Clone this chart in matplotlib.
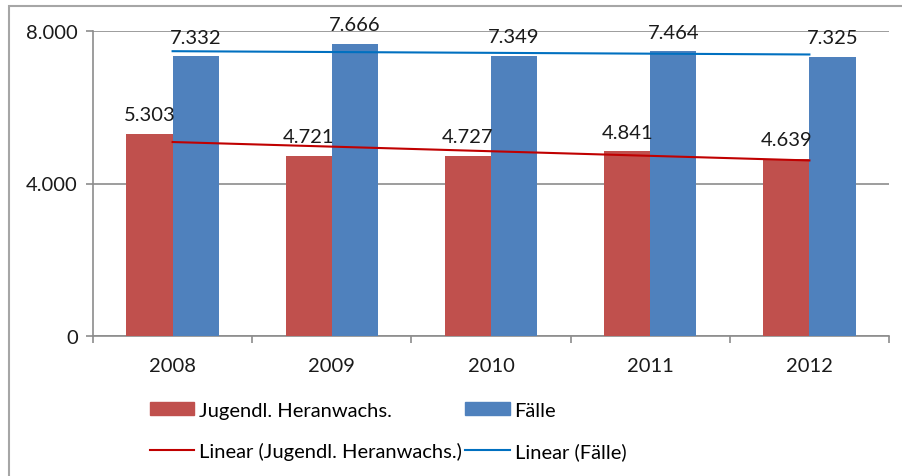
import matplotlib.pyplot as plt
import numpy as np
from matplotlib.patches import Rectangle, Patch
from matplotlib.lines import Line2D

plt.rcParams['font.family'] = ['Lato', 'DejaVu Sans']

jahre = ["2008", "2009", "2010", "2011", "2012"]
jugendl = [5303, 4721, 4727, 4841, 4639]
faelle = [7332, 7666, 7349, 7464, 7325]
y_ticks = [0, 4000, 8000]
y_labels = ["0", "4.000", "8.000"]

rot = '#C0504D'
blau = '#4F81BD'
rot_trend = '#C00000'
blau_trend = '#0070C0'
grau = '#8C8C8C'


def fmt(v):
    return f"{v:,}".replace(",", ".")


fig = plt.figure(figsize=(9.02, 4.77), dpi=100)
ax = fig.add_axes([93 / 902, 1 - 337 / 477, (889 - 93) / 902, (337 - 32) / 477])

x = np.arange(len(jahre))
w = 0.29
ax.bar(x - w / 2, jugendl, w, color=rot, zorder=3)
ax.bar(x + w / 2, faelle, w, color=blau, zorder=3)

for xi, v in zip(x - w / 2, jugendl):
    ax.annotate(fmt(v), (xi, v), xytext=(0, 10), textcoords='offset points',
                ha='center', va='baseline', fontsize=14.5, color='#1a1a1a',
                annotation_clip=False, zorder=5)
for xi, v in zip(x + w / 2, faelle):
    ax.annotate(fmt(v), (xi, v), xytext=(0, 10), textcoords='offset points',
                ha='center', va='baseline', fontsize=14.5, color='#1a1a1a',
                annotation_clip=False, zorder=5)

# lineare Trendlinien
for werte, farbe in [(jugendl, rot_trend), (faelle, blau_trend)]:
    k, d = np.polyfit(x, werte, 1)
    ax.plot(x, k * x + d, color=farbe, lw=1.5, zorder=4)

ax.set_xlim(-0.5, len(jahre) - 0.5)
ax.set_ylim(0, 8000)
ax.set_yticks(y_ticks)
ax.set_yticklabels(y_labels, fontsize=14.5, color='#1a1a1a')
ax.set_xticks(x)
ax.set_xticklabels(jahre, fontsize=14.5, color='#1a1a1a')
ax.set_xticks(np.arange(len(jahre) + 1) - 0.5, minor=True)
ax.tick_params(axis='x', which='major', length=0, pad=15)
ax.tick_params(axis='x', which='minor', length=5, width=1.2, color=grau, direction='out')
ax.tick_params(axis='y', length=5, width=1.2, color=grau, pad=6)
ax.yaxis.grid(True, color=grau, lw=1.2, zorder=0)

for s in ['top', 'right']:
    ax.spines[s].set_visible(False)
for s in ['left', 'bottom']:
    ax.spines[s].set_color(grau)
    ax.spines[s].set_linewidth(1.2)

# Legende: Spalte 1 rot, Spalte 2 blau
handles = [Patch(color=rot), Line2D([], [], color=rot_trend, lw=1.5),
           Patch(color=blau), Line2D([], [], color=blau_trend, lw=1.5)]
labels = ["Jugendl. Heranwachs.", "Linear (Jugendl. Heranwachs.)", "Fälle", "Linear (Fälle)"]
fig.legend(handles, labels, ncol=2, loc='center left',
           bbox_to_anchor=(150 / 902, 1 - 432 / 477), frameon=False,
           fontsize=14.5, handlelength=2.2, handleheight=0.6, handletextpad=0.25,
           columnspacing=0.15, labelspacing=1.15, borderpad=0, borderaxespad=0)

# Rahmen des Diagrammbereichs
fig.patches.append(Rectangle((9 / 902, -0.1), 1.2, 1.1 - 7 / 477, transform=fig.transFigure,
                             fill=False, edgecolor='#A6A6A6', lw=1.5))

fig.savefig('out.png', dpi=100)
